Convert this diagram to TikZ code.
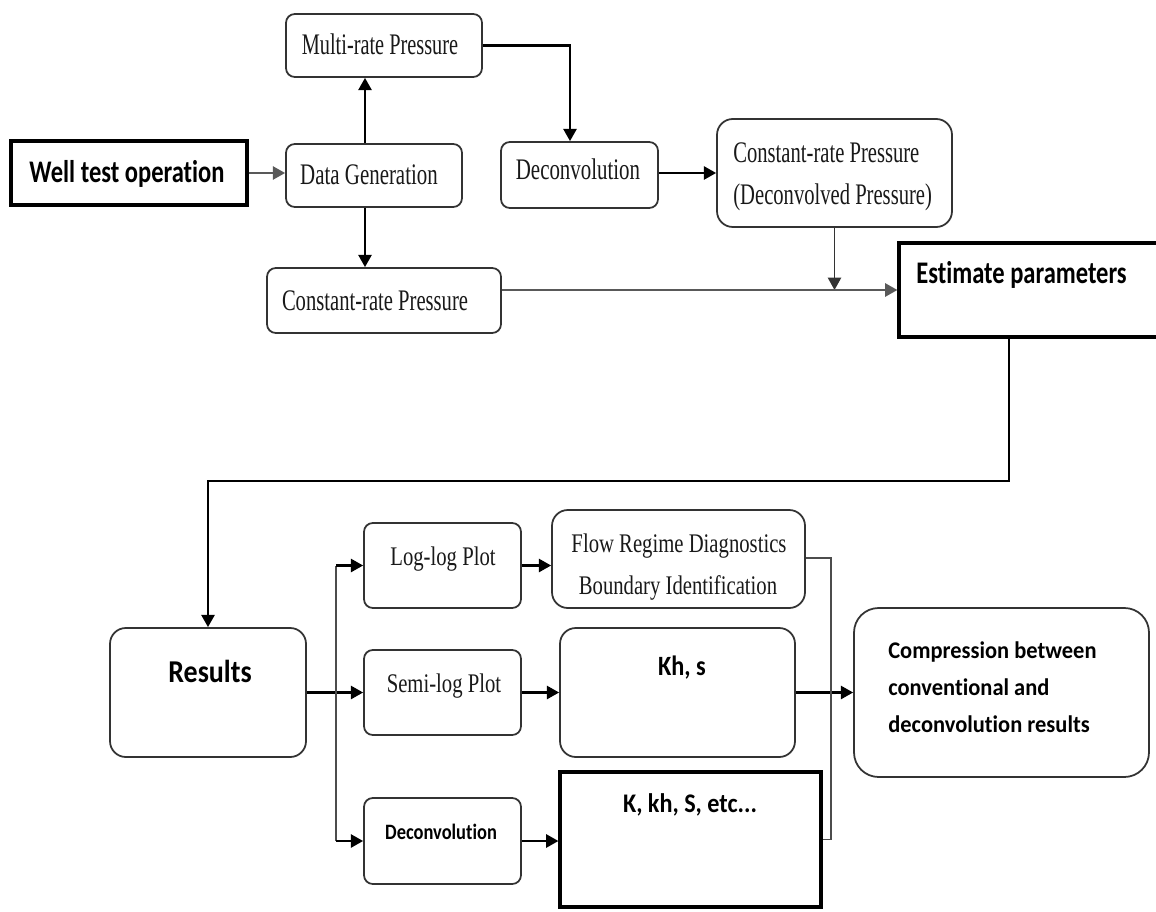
\documentclass[tikz,border=0pt]{standalone}
\usepackage{fontspec}
\setmainfont{Liberation Serif}
\newfontfamily\calfont{Carlito}[Ligatures=NoCommon]
\usepackage{graphicx}
\usetikzlibrary{arrows.meta,fit,calc}
\newcommand\sx[2]{\scalebox{#1}[1]{#2}}
\tikzset{
  rbox/.style={draw=black!80, line width=1pt, rounded corners=5pt, inner sep=0pt},
  rboxL/.style={draw=black!80, line width=1pt, rounded corners=9pt, inner sep=0pt},
  sbox/.style={draw=black, line width=1.8pt, inner sep=0pt},
  arr/.style={-{Triangle[length=7pt,width=7.5pt]}, line width=1.3pt, draw=black},
  garr/.style={-{Triangle[length=7pt,width=7.5pt]}, line width=1.2pt, draw=black!65},
  ln/.style={line width=1.1pt, draw=black!70},
  serA/.style={font=\fontsize{17}{20}\selectfont, text=black!90, inner sep=0pt},
  serB/.style={font=\fontsize{15.3}{18}\selectfont, text=black!90, inner sep=0pt},
  bsans/.style={font=\calfont\bfseries, text=black, inner sep=0pt},
}
\begin{document}
\begin{tikzpicture}[x=0.02cm,y=-0.02cm]
\clip (0,0) rectangle (1156,912);
\fill[white] (0,0) rectangle (1156,912);

% ---------- boxes ----------
\node[rbox, fit={(286,14) (482,77)}] (multi) {};
\node[sbox, fit={(11,141) (247,205)}] (well) {};
\node[rbox, fit={(286,144) (462,207)}] (datagen) {};
\node[rbox, fit={(501,142) (658,208)}] (dec1) {};
\node[rboxL, fit={(717,119) (952,227)}] (crpd) {};
\node[rbox, fit={(267,268) (501,333)}] (crp) {};
\node[sbox, fit={(899,243) (1180,337)}] (est) {};
\node[rboxL, fit={(110,628) (306,757)}] (results) {};
\node[rbox, fit={(364,523) (521,608)}] (loglog) {};
\node[rbox, fit={(364,650) (521,735)}] (semilog) {};
\node[rbox, fit={(364,798) (521,884)}] (dec2) {};
\node[rboxL, fit={(552,510) (805,608)}] (flow) {};
\node[rboxL, fit={(560,628) (795,757)}] (kh) {};
\node[sbox, fit={(560,772) (821,907)}] (kbox) {};
\node[rboxL, rounded corners=14pt, fit={(854,608) (1149,777)}] (comp) {};

% ---------- texts ----------
\node[serA, anchor=base] (multiT) at (380,55) {\sx{0.68}{Multi-rate Pressure}};
\node[bsans, font=\calfont\bfseries\fontsize{17.9}{21}\selectfont, anchor=base] (wellT) at (127,183) {\sx{0.78}{Well test operation}};
\node[serA, anchor=base] (datagenT) at (369,185) {\sx{0.70}{Data Generation}};
\node[serA, anchor=base] (dec1T) at (578,180) {\sx{0.70}{Deconvolution}};
\node[serA, anchor=base west] (crpdT1) at (733,163) {\sx{0.69}{Constant-rate Pressure}};
\node[serA, anchor=base west] (crpdT2) at (733,205) {\sx{0.69}{(Deconvolved Pressure)}};
\node[serA, anchor=base] (crpT) at (375,310) {\sx{0.69}{Constant-rate Pressure}};
\node[bsans, font=\calfont\bfseries\fontsize{17.9}{21}\selectfont, anchor=base west] (estT) at (916,283) {\sx{0.78}{Estimate parameters}};
\node[bsans, font=\calfont\bfseries\fontsize{18.1}{21}\selectfont, anchor=base] (resultsT) at (210,682) {\sx{0.88}{Results}};
\node[serB, anchor=base] (loglogT) at (443,565) {\sx{0.77}{Log-log Plot}};
\node[serB, anchor=base] (semilogT) at (444,692) {\sx{0.77}{Semi-log Plot}};
\node[bsans, font=\calfont\bfseries\fontsize{12.5}{15}\selectfont, anchor=base] (dec2T) at (441,839) {\sx{0.84}{Deconvolution}};
\node[serB, anchor=base] (flowT1) at (679,552) {\sx{0.77}{Flow Regime Diagnostics}};
\node[serB, anchor=base] (flowT2) at (678,594) {\sx{0.77}{Boundary Identification}};
\node[bsans, font=\calfont\bfseries\fontsize{15.9}{19}\selectfont, anchor=base] (khT) at (682,675) {\sx{0.87}{Kh, s}};
\node[bsans, font=\calfont\bfseries\fontsize{15.3}{18}\selectfont, anchor=base] (kT) at (690,812) {\sx{0.9}{K, kh, S, etc...}};
\node[bsans, font=\calfont\bfseries\fontsize{13.6}{16}\selectfont, anchor=base west] (compT1) at (888,658) {\sx{0.94}{Compression between}};
\node[bsans, font=\calfont\bfseries\fontsize{13.6}{16}\selectfont, anchor=base west] (compT2) at (888,695) {\sx{0.94}{conventional and}};
\node[bsans, font=\calfont\bfseries\fontsize{13.6}{16}\selectfont, anchor=base west] (compT3) at (888,732) {\sx{0.94}{deconvolution results}};

% ---------- helper coordinates ----------
\coordinate (vx) at (365,0);
\coordinate (d1x) at (570,0);
\coordinate (ex) at (1009,0);
\coordinate (ey) at (600,481);
\coordinate (bx) at (336,0);
\coordinate (cx) at (831,0);

% ---------- connectors ----------
\draw[garr] (well.east |- 0,173) -- (datagen.west |- 0,173);
\draw[arr] (vx |- datagen.north) -- (vx |- multi.south);
\draw[arr] (vx |- datagen.south) -- (vx |- crp.north);
\draw[arr] (multi.east) -| (d1x |- dec1.north);
\draw[arr] (dec1.east |- 0,173) -- (crpd.west |- 0,173);
\draw[arr, line width=0.9pt, draw=black!80] (crpd.south) -- (crpd.south |- est.west);
\draw[garr] (crp.east |- est.west) -- (est.west);
\draw[arr] (ex |- est.south) |- (ey) -| (results.north);
\draw[arr] (results.east |- semilog.west) -- (semilog.west);
\draw[ln] (bx |- loglog.west) -- (bx |- dec2.west);
\draw[arr] (bx |- loglog.west) -- (loglog.west);
\draw[arr] (bx |- dec2.west) -- (dec2.west);
\draw[arr] (loglog.east) -- (loglog.east -| flow.west);
\draw[arr] (semilog.east) -- (semilog.east -| kh.west);
\draw[arr] (dec2.east) -- (dec2.east -| kbox.west);
\draw[arr] (kh.east) -- (kh.east -| comp.west);
\draw[ln] (flow.east |- 0,558) -| (cx |- kbox.east) -- (kbox.east);
\end{tikzpicture}
\end{document}
